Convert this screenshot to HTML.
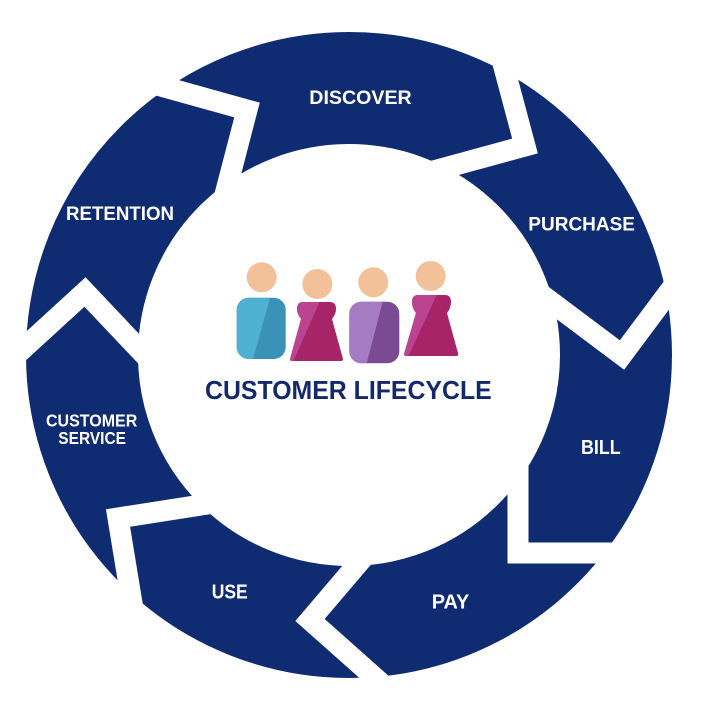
<!DOCTYPE html>
<html>
<head>
<meta charset="utf-8">
<style>
html,body{margin:0;padding:0;background:#fff;}
svg{display:block;}
text{font-family:"Liberation Sans",sans-serif;font-weight:bold;}
</style>
</head>
<body>
<svg width="701" height="711" viewBox="0 0 701 711" xmlns="http://www.w3.org/2000/svg">
  <rect width="701" height="711" fill="#fff"/>
  <!-- ring -->
  <circle cx="349" cy="355" r="267" fill="none" stroke="#0f2c72" stroke-width="112"/>
  <!-- white chevron gaps -->
  <g fill="none" stroke="#fff" stroke-width="21" stroke-linejoin="miter" stroke-miterlimit="10">
    <polyline points="120.6,74.8 247,110 216.6,226.8"/>
    <polyline points="493,26 525,146 401.8,179.6"/>
    <polyline points="692.4,260.6 622,355 513.2,273.4"/>
    <polyline points="654,553 518,553 518,436"/>
    <polyline points="410.8,709.6 310,620 383.6,533.6"/>
    <polyline points="137.2,634.8 118,518 250.8,497.2"/>
    <polyline points="-9.4,378.4 85,292 169.8,381.6"/>
  </g>

  <!-- labels -->
  <g fill="#fff">
    <text x="309.3" y="104" font-size="19.5" textLength="102.4" lengthAdjust="spacingAndGlyphs">DISCOVER</text>
    <text x="66" y="220" font-size="19.5" textLength="108" lengthAdjust="spacingAndGlyphs">RETENTION</text>
    <text x="528.3" y="230.7" font-size="19.5" textLength="106.7" lengthAdjust="spacingAndGlyphs">PURCHASE</text>
    <text x="581" y="454" font-size="20.5" textLength="39.7" lengthAdjust="spacingAndGlyphs">BILL</text>
    <text x="431.7" y="608.3" font-size="20.5" textLength="37.6" lengthAdjust="spacingAndGlyphs">PAY</text>
    <text x="211.7" y="598.3" font-size="20.5" textLength="36" lengthAdjust="spacingAndGlyphs">USE</text>
    <text x="46" y="426.7" font-size="17.3" textLength="91.3" lengthAdjust="spacingAndGlyphs">CUSTOMER</text>
    <text x="58.3" y="444" font-size="17.3" textLength="67.7" lengthAdjust="spacingAndGlyphs">SERVICE</text>
  </g>

  <!-- title -->
  <text x="205" y="399" font-size="26" fill="#14296b" textLength="286.7" lengthAdjust="spacingAndGlyphs">CUSTOMER LIFECYCLE</text>

  <defs>
    <clipPath id="b1"><rect x="236.7" y="297.7" width="49" height="61.3" rx="12" ry="12"/></clipPath>
    <clipPath id="b3"><rect x="349.3" y="301.7" width="50" height="61.6" rx="12" ry="12"/></clipPath>
    <clipPath id="b2"><path d="M303,302 L330,302 Q336,302 336,309 Q336,314 332,319 L343,359 Q343,361 341,361 L292,361 Q290,361 290,359 L301,319 Q297,314 297,309 Q297,302 303,302 Z"/></clipPath>
    <clipPath id="b4"><path d="M418,295 L445,295 Q451,295 451,302 Q451,308 447,313 L458.3,354 Q458.3,356 456.3,356 L406,356 Q404,356 404,354 L416,313 Q412,308 412,302 Q412,295 418,295 Z"/></clipPath>
  </defs>

  <!-- person 1 (blue) -->
  <circle cx="261.7" cy="277.3" r="15" fill="#f2c199"/>
  <g clip-path="url(#b1)">
    <rect x="230" y="290" width="70" height="80" fill="#3a93b7"/>
    <polygon points="230,297.7 270,297.7 253,359 230,359" fill="#4eb1d1"/>
  </g>

  <!-- person 2 (magenta) -->
  <circle cx="317.3" cy="284" r="15" fill="#f2c199"/>
  <g clip-path="url(#b2)">
    <rect x="285" y="295" width="65" height="70" fill="#a82468"/>
    <polygon points="285,301 320,301 293,362 285,362" fill="#bb4490"/>
  </g>

  <!-- person 3 (purple) -->
  <circle cx="373.3" cy="282.3" r="15" fill="#f2c199"/>
  <g clip-path="url(#b3)">
    <rect x="345" y="295" width="60" height="75" fill="#7a4b93"/>
    <polygon points="345,301.7 382.7,301.7 366.7,363.3 345,363.3" fill="#a57bc3"/>
  </g>

  <!-- person 4 (magenta) -->
  <circle cx="430.7" cy="276" r="15" fill="#f2c199"/>
  <g clip-path="url(#b4)">
    <rect x="400" y="290" width="65" height="70" fill="#a82468"/>
    <polygon points="400,295 436.7,295 408,357 400,357" fill="#bb4490"/>
  </g>
</svg>
</body>
</html>
